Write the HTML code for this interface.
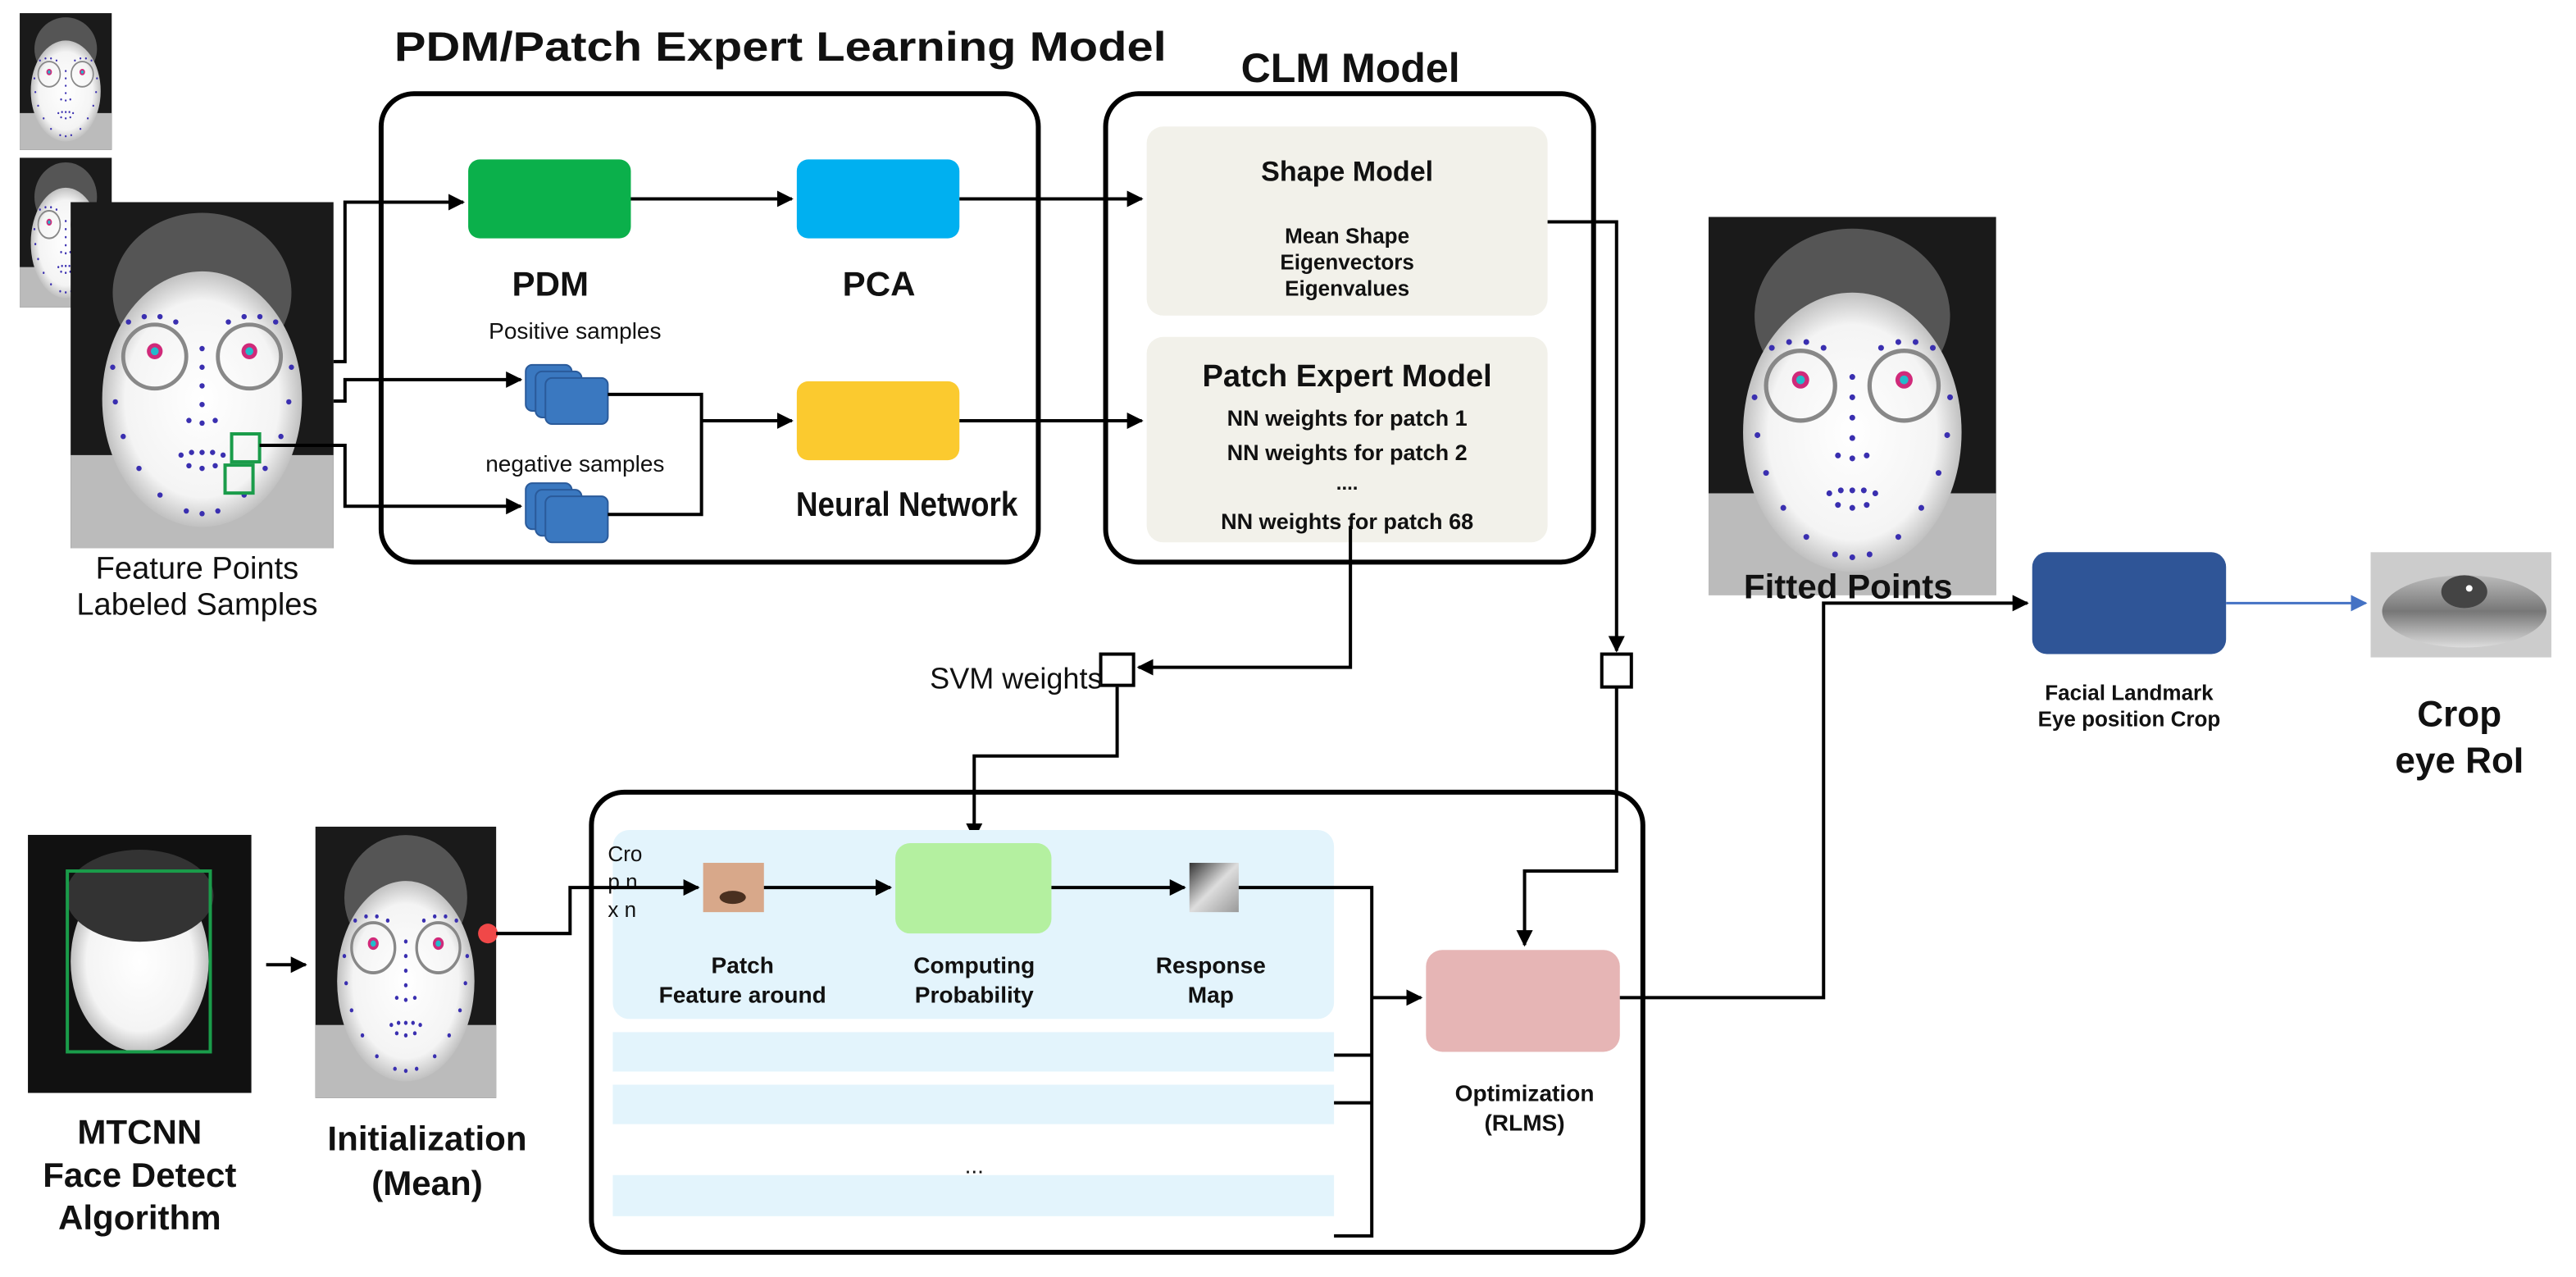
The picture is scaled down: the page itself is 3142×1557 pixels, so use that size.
<!DOCTYPE html>
<html><head><meta charset="utf-8"><style>
html,body{margin:0;padding:0;background:#fff;}
svg{display:block;}
text{font-family:"Liberation Sans Narrow","Liberation Sans",sans-serif;fill:#111;}
.b{font-weight:bold;}
</style></head><body>
<svg width="3142" height="1557" viewBox="0 0 1568 777" xmlns="http://www.w3.org/2000/svg">
<defs>
<marker id="ar" markerWidth="10" markerHeight="10" refX="9" refY="5" orient="auto" markerUnits="userSpaceOnUse"><path d="M0,0 L10,5 L0,10 z" fill="#000"/></marker>
<marker id="arb" markerWidth="10" markerHeight="10" refX="9" refY="5" orient="auto" markerUnits="userSpaceOnUse"><path d="M0,0 L10,5 L0,10 z" fill="#4472c4"/></marker>
<radialGradient id="face" cx="50%" cy="50%" r="55%"><stop offset="0" stop-color="#fff"/><stop offset="0.7" stop-color="#f4f4f4"/><stop offset="1" stop-color="#aaa"/></radialGradient>
<linearGradient id="eye" x1="0" y1="0" x2="0" y2="1"><stop offset="0" stop-color="#bbb"/><stop offset="0.5" stop-color="#777"/><stop offset="1" stop-color="#ddd"/></linearGradient>
<linearGradient id="resp" x1="0" y1="0" x2="1" y2="1"><stop offset="0" stop-color="#333"/><stop offset="0.5" stop-color="#ddd"/><stop offset="1" stop-color="#999"/></linearGradient>
<g id="facepic">
<rect x="0" y="0" width="100" height="130" fill="#1a1a1a"/>
<rect x="0" y="95" width="100" height="35" fill="#bbb"/>
<ellipse cx="50" cy="34" rx="34" ry="30" fill="#555"/>
<ellipse cx="50" cy="74" rx="38" ry="48" fill="url(#face)"/>
<circle cx="32" cy="58" r="12" fill="none" stroke="#888" stroke-width="1.5"/>
<circle cx="68" cy="58" r="12" fill="none" stroke="#888" stroke-width="1.5"/>
</g>
<g id="dots" fill="#3a2fb0">
<circle cx="32" cy="56" r="3" fill="#d02a7a"/><circle cx="68" cy="56" r="3" fill="#d02a7a"/>
<circle cx="32" cy="56" r="1.5" fill="#2bc"/><circle cx="68" cy="56" r="1.5" fill="#2bc"/>
<circle cx="50" cy="55" r="1"/><circle cx="50" cy="62" r="1"/><circle cx="50" cy="69" r="1"/><circle cx="50" cy="76" r="1"/>
<circle cx="45" cy="82" r="1"/><circle cx="50" cy="83" r="1"/><circle cx="55" cy="82" r="1"/>
<circle cx="42" cy="95" r="1"/><circle cx="46" cy="94" r="1"/><circle cx="50" cy="94" r="1"/><circle cx="54" cy="94" r="1"/><circle cx="58" cy="95" r="1"/>
<circle cx="45" cy="99" r="1"/><circle cx="50" cy="100" r="1"/><circle cx="55" cy="99" r="1"/>
<circle cx="16" cy="62" r="1"/><circle cx="17" cy="75" r="1"/><circle cx="20" cy="88" r="1"/><circle cx="26" cy="100" r="1"/><circle cx="34" cy="110" r="1"/><circle cx="44" cy="116" r="1"/><circle cx="50" cy="117" r="1"/><circle cx="56" cy="116" r="1"/><circle cx="66" cy="110" r="1"/><circle cx="74" cy="100" r="1"/><circle cx="80" cy="88" r="1"/><circle cx="83" cy="75" r="1"/><circle cx="84" cy="62" r="1"/>
<circle cx="22" cy="45" r="1"/><circle cx="28" cy="43" r="1"/><circle cx="34" cy="43" r="1"/><circle cx="40" cy="45" r="1"/><circle cx="60" cy="45" r="1"/><circle cx="66" cy="43" r="1"/><circle cx="72" cy="43" r="1"/><circle cx="78" cy="45" r="1"/>
</g>
</defs>

<!-- titles -->
<text x="475" y="37" text-anchor="middle" class="b" font-size="25" textLength="470" lengthAdjust="spacingAndGlyphs">PDM/Patch Expert Learning Model</text>
<text x="822" y="50" text-anchor="middle" class="b" font-size="25">CLM Model</text>

<!-- big boxes -->
<rect x="232" y="57" width="400" height="285" rx="20" fill="none" stroke="#000" stroke-width="3"/>
<rect x="673" y="57" width="297" height="285" rx="20" fill="none" stroke="#000" stroke-width="3"/>
<rect x="360" y="482" width="640" height="280" rx="20" fill="none" stroke="#000" stroke-width="3"/>

<!-- left faces -->
<g transform="translate(12,8) scale(0.56,0.64)"><use href="#facepic"/><use href="#dots"/></g>
<g transform="translate(12,96) scale(0.56,0.7)"><use href="#facepic"/><use href="#dots"/></g>
<g transform="translate(43,123) scale(1.6,1.62)"><use href="#facepic"/><use href="#dots"/></g>
<rect x="141" y="264" width="17" height="17" fill="none" stroke="#1a9c4a" stroke-width="2"/>
<rect x="137" y="283" width="17" height="17" fill="none" stroke="#1a9c4a" stroke-width="2"/>
<text x="120" y="352" text-anchor="middle" font-size="19">Feature Points</text>
<text x="120" y="374" text-anchor="middle" font-size="19">Labeled Samples</text>

<!-- PDM box contents -->
<rect x="285" y="97" width="99" height="48" rx="7" fill="#0bb04b"/>
<rect x="485" y="97" width="99" height="48" rx="7" fill="#00b0f0"/>
<text x="335" y="180" text-anchor="middle" class="b" font-size="21">PDM</text>
<text x="535" y="180" text-anchor="middle" class="b" font-size="21">PCA</text>
<text x="350" y="206" text-anchor="middle" font-size="14">Positive samples</text>
<text x="350" y="287" text-anchor="middle" font-size="14">negative samples</text>
<g fill="#3a78c0" stroke="#2a5a9a" stroke-width="1">
<rect x="320" y="222" width="28" height="28" rx="4"/><rect x="326" y="226" width="28" height="28" rx="4"/><rect x="332" y="230" width="38" height="28" rx="4"/>
<rect x="320" y="294" width="28" height="28" rx="4"/><rect x="326" y="298" width="28" height="28" rx="4"/><rect x="332" y="302" width="38" height="28" rx="4"/>
</g>
<rect x="485" y="232" width="99" height="48" rx="7" fill="#fbca2f"/>
<text x="552" y="314" text-anchor="middle" class="b" font-size="21" textLength="135" lengthAdjust="spacingAndGlyphs">Neural Network</text>

<!-- CLM panels -->
<rect x="698" y="77" width="244" height="115" rx="10" fill="#f2f1ea"/>
<text x="820" y="110" text-anchor="middle" class="b" font-size="17">Shape Model</text>
<text x="820" y="148" text-anchor="middle" font-size="13" class="b">Mean Shape</text>
<text x="820" y="164" text-anchor="middle" font-size="13" class="b">Eigenvectors</text>
<text x="820" y="180" text-anchor="middle" font-size="13" class="b">Eigenvalues</text>
<rect x="698" y="205" width="244" height="125" rx="10" fill="#f2f1ea"/>
<text x="820" y="235" text-anchor="middle" class="b" font-size="19">Patch Expert Model</text>
<text x="820" y="259" text-anchor="middle" font-size="13.5" class="b">NN weights for patch 1</text>
<text x="820" y="280" text-anchor="middle" font-size="13.5" class="b">NN weights for patch 2</text>
<text x="820" y="298" text-anchor="middle" font-size="12" class="b">....</text>
<text x="820" y="322" text-anchor="middle" font-size="13.5" class="b">NN weights for patch 68</text>

<!-- top connectors -->
<g fill="none" stroke="#000" stroke-width="2">
<polyline points="203,220 210,220 210,123 282,123" marker-end="url(#ar)"/>
<line x1="384" y1="121" x2="482" y2="121" marker-end="url(#ar)"/>
<line x1="584" y1="121" x2="695" y2="121" marker-end="url(#ar)"/>
<polyline points="203,244 210,244 210,231 317,231" marker-end="url(#ar)"/>
<polyline points="158,271 210,271 210,308 317,308" marker-end="url(#ar)"/>
<polyline points="370,240 427,240 427,313 370,313"/>
<line x1="427" y1="256" x2="482" y2="256" marker-end="url(#ar)"/>
<line x1="584" y1="256" x2="695" y2="256" marker-end="url(#ar)"/>
<polyline points="942,135 984,135 984,396" marker-end="url(#ar)"/>
<polyline points="984,418 984,530 928,530 928,575" marker-end="url(#ar)"/>
<polyline points="822,320 822,406 693,406" marker-end="url(#ar)"/>
<polyline points="680,418 680,460 593,460 593,510" marker-end="url(#ar)"/>
</g>
<rect x="670" y="398" width="20" height="19" fill="#fff" stroke="#000" stroke-width="2"/>
<rect x="975" y="398" width="18" height="20" fill="#fff" stroke="#000" stroke-width="2"/>
<text x="566" y="419" font-size="18">SVM weights</text>

<!-- fitted face -->
<g transform="translate(1040,132) scale(1.75,1.77)"><use href="#facepic"/><use href="#dots"/></g>
<text x="1125" y="364" text-anchor="middle" class="b" font-size="21">Fitted Points</text>
<rect x="1237" y="336" width="118" height="62" rx="9" fill="#2f5597"/>
<text x="1296" y="426" text-anchor="middle" class="b" font-size="13">Facial Landmark</text>
<text x="1296" y="442" text-anchor="middle" class="b" font-size="13">Eye position Crop</text>
<line x1="1355" y1="367" x2="1440" y2="367" stroke="#4472c4" stroke-width="1.5" marker-end="url(#arb)"/>
<rect x="1443" y="336" width="110" height="64" fill="#ccc"/>
<ellipse cx="1500" cy="372" rx="50" ry="22" fill="url(#eye)"/>
<ellipse cx="1500" cy="360" rx="14" ry="10" fill="#444"/>
<circle cx="1503" cy="358" r="2" fill="#fff"/>
<text x="1497" y="442" text-anchor="middle" class="b" font-size="22">Crop</text>
<text x="1497" y="470" text-anchor="middle" class="b" font-size="22">eye RoI</text>

<!-- bottom -->
<rect x="17" y="508" width="136" height="157" fill="#111"/>
<ellipse cx="85" cy="585" rx="42" ry="55" fill="url(#face)"/>
<ellipse cx="85" cy="545" rx="45" ry="28" fill="#333"/>
<rect x="41" y="530" width="87" height="110" fill="none" stroke="#1a9c4a" stroke-width="2"/>
<text x="85" y="696" text-anchor="middle" class="b" font-size="21">MTCNN</text>
<text x="85" y="722" text-anchor="middle" class="b" font-size="21">Face Detect</text>
<text x="85" y="748" text-anchor="middle" class="b" font-size="21">Algorithm</text>
<line x1="162" y1="587" x2="186" y2="587" stroke="#000" stroke-width="2" marker-end="url(#ar)"/>
<g transform="translate(192,503) scale(1.1,1.27)"><use href="#facepic"/><use href="#dots"/></g>
<circle cx="297" cy="568" r="6" fill="#f04848"/>
<text x="260" y="700" text-anchor="middle" class="b" font-size="21">Initialization</text>
<text x="260" y="727" text-anchor="middle" class="b" font-size="21">(Mean)</text>

<rect x="373" y="505" width="439" height="115" rx="10" fill="#e3f4fc"/>
<rect x="373" y="628" width="439" height="24" fill="#e3f4fc"/>
<rect x="373" y="660" width="439" height="24" fill="#e3f4fc"/>
<rect x="373" y="715" width="439" height="25" fill="#e3f4fc"/>
<text x="593" y="714" text-anchor="middle" font-size="14">...</text>
<text x="370" y="524" font-size="13">Cro</text>
<text x="370" y="541" font-size="13">p n</text>
<text x="370" y="558" font-size="13">x n</text>
<rect x="428" y="525" width="37" height="30" fill="#d8a88a"/>
<ellipse cx="446" cy="546" rx="8" ry="4" fill="#4a3020"/>
<rect x="545" y="513" width="95" height="55" rx="9" fill="#b4f0a0"/>
<rect x="724" y="525" width="30" height="30" fill="url(#resp)"/>
<text x="452" y="592" text-anchor="middle" class="b" font-size="14">Patch</text>
<text x="452" y="610" text-anchor="middle" class="b" font-size="14">Feature around</text>
<text x="593" y="592" text-anchor="middle" class="b" font-size="14">Computing</text>
<text x="593" y="610" text-anchor="middle" class="b" font-size="14">Probability</text>
<text x="737" y="592" text-anchor="middle" class="b" font-size="14">Response</text>
<text x="737" y="610" text-anchor="middle" class="b" font-size="14">Map</text>

<rect x="868" y="578" width="118" height="62" rx="10" fill="#e6b5b5"/>
<text x="928" y="670" text-anchor="middle" class="b" font-size="14">Optimization</text>
<text x="928" y="688" text-anchor="middle" class="b" font-size="14">(RLMS)</text>

<g fill="none" stroke="#000" stroke-width="2">
<polyline points="302,568 347,568 347,540 425,540" marker-end="url(#ar)"/>
<line x1="465" y1="540" x2="542" y2="540" marker-end="url(#ar)"/>
<line x1="640" y1="540" x2="721" y2="540" marker-end="url(#ar)"/>
<polyline points="754,540 835,540 835,752 812,752"/>
<line x1="812" y1="642" x2="835" y2="642"/>
<line x1="812" y1="671" x2="835" y2="671"/>
<line x1="835" y1="607" x2="865" y2="607" marker-end="url(#ar)"/>
<polyline points="986,607 1110,607 1110,367 1234,367" marker-end="url(#ar)"/>
</g>
</svg>
</body></html>
